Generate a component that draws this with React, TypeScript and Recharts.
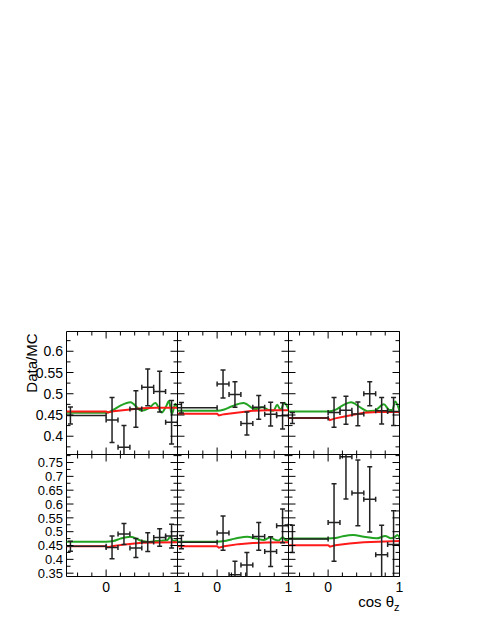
import React from 'react';
import { ComposedChart, XAxis, YAxis, Line, Scatter, ErrorBar, ReferenceArea } from 'recharts';

// ---- binning (cos theta_z) ----
const binCenters = [-0.5, 0.083, 0.25, 0.417, 0.583, 0.75, 0.917];
const binHalfWidths = [0.5, 0.083, 0.083, 0.083, 0.083, 0.083, 0.083];

// ---- data points (Data/MC) and errors per panel ----
const dataTopLeft = [0.449, 0.438, 0.374, 0.464, 0.515, 0.505, 0.433];
const errTopLeft = [0.02, 0.053, 0.051, 0.043, 0.043, 0.048, 0.051];
const dataTopMid = [0.467, 0.523, 0.498, 0.43, 0.468, 0.452, 0.448];
const errTopMid = [0.0125, 0.033, 0.03, 0.027, 0.028, 0.028, 0.031];
const dataTopRight = [0.443, 0.456, 0.461, 0.4525, 0.5, 0.46, 0.458];
const errTopRight = [0.013, 0.035, 0.033, 0.028, 0.028, 0.031, 0.033];
const dataBotLeft = [0.447, 0.443, 0.492, 0.441, 0.4625, 0.479, 0.484];
const errBotLeft = [0.018, 0.041, 0.038, 0.034, 0.034, 0.032, 0.043];
const dataBotMid = [0.462, 0.495, 0.344, 0.38, 0.483, 0.428, 0.521];
const errBotMid = [0.024, 0.062, 0.049, 0.045, 0.05, 0.054, 0.061];
const dataBotRight = [0.474, 0.533, 0.771, 0.64, 0.617, 0.417, 0.454];
const errBotRight = [0.049, 0.14, 0.153, 0.119, 0.118, 0.106, 0.122];

// ---- red curve ----
const redX = [-0.555, 0, 0.025, 0.1, 0.3, 0.5, 0.7, 1.0];
const redTopLeft = [0.4585, 0.4585, 0.456, 0.459, 0.4625, 0.466, 0.467, 0.467];
const redTopMid = [0.453, 0.453, 0.449, 0.452, 0.456, 0.46, 0.461, 0.461];
const redTopRight = [0.443, 0.443, 0.438, 0.442, 0.449, 0.455, 0.457, 0.457];
const redBotLeft = [0.4475, 0.4475, 0.444, 0.448, 0.455, 0.46, 0.461, 0.462];
const redBotMid = [0.4475, 0.4475, 0.442, 0.447, 0.455, 0.459, 0.461, 0.462];
const redBotRight = [0.451, 0.451, 0.446, 0.451, 0.457, 0.462, 0.464, 0.466];

// ---- green curve ----
const greenXTopLeft = [-0.555, 0, 0.08, 0.2, 0.34, 0.5, 0.6, 0.69, 0.78, 0.84, 0.88, 0.92, 0.97, 1.0];
const greenTopLeft = [0.455, 0.455, 0.46, 0.472, 0.48, 0.46, 0.466, 0.478, 0.456, 0.47, 0.483, 0.452, 0.476, 0.464];
const greenXTopMid = [-0.555, 0, 0.1, 0.2, 0.37, 0.53, 0.63, 0.72, 0.79, 0.84, 0.89, 0.94, 1.0];
const greenTopMid = [0.46, 0.46, 0.463, 0.47, 0.478, 0.464, 0.468, 0.462, 0.46, 0.474, 0.462, 0.479, 0.464];
const greenXTopRight = [-0.555, 0, 0.1, 0.2, 0.32, 0.45, 0.55, 0.65, 0.78, 0.86, 0.9, 0.94, 1.0];
const greenTopRight = [0.4585, 0.4585, 0.462, 0.472, 0.48, 0.468, 0.459, 0.46, 0.475, 0.462, 0.462, 0.482, 0.46];
const greenXBotLeft = [-0.555, 0, 0.1, 0.2, 0.34, 0.5, 0.6, 0.7, 0.8, 0.86, 0.9, 0.94, 1.0];
const greenBotLeft = [0.4634, 0.4634, 0.466, 0.475, 0.482, 0.466, 0.463, 0.466, 0.468, 0.47, 0.482, 0.466, 0.47];
const greenXBotMid = [-0.555, 0, 0.1, 0.2, 0.3, 0.42, 0.55, 0.65, 0.75, 0.8, 0.86, 0.92, 0.96, 1.0];
const greenBotMid = [0.4634, 0.4634, 0.466, 0.472, 0.478, 0.482, 0.475, 0.47, 0.48, 0.472, 0.468, 0.48, 0.47, 0.468];
const greenXBotRight = [-0.555, 0, 0.1, 0.2, 0.35, 0.5, 0.68, 0.8, 0.88, 0.93, 0.97, 1.0];
const greenBotRight = [0.4757, 0.4757, 0.477, 0.483, 0.488, 0.482, 0.476, 0.484, 0.476, 0.48, 0.488, 0.478];

// ---- axes ----
const xTicks = [-0.4, -0.2, 0, 0.2, 0.4, 0.6, 0.8, 1];
const yTicksTop = [0.375, 0.4, 0.425, 0.45, 0.475, 0.5, 0.525, 0.55, 0.575, 0.6, 0.625];
const yTicksBottom = [0.35, 0.375, 0.4, 0.425, 0.45, 0.475, 0.5, 0.525, 0.55, 0.575, 0.6, 0.625, 0.65, 0.675, 0.7, 0.725, 0.75, 0.775];
const X_DOMAIN = [-0.555, 1];
const TOP_DOMAIN = [0.357, 0.6465];
const BOTTOM_DOMAIN = [0.338, 0.779];

const FONT = "'Liberation Sans', Arial, Helvetica, sans-serif";
const ML = 54.5;
const MR = 10.5;
const MT = 10.5;
const MB = 40.5;
const PW = 111;
const AXIS_W = 1;

type PanelProps = {
  id: string;
  left: number;
  top: number;
  h: number;
  yDomain: number[];
  yTicks: number[];
  yFont: number;
  showY: boolean;
  showX: boolean;
  values: number[];
  errors: number[];
  redY: number[];
  greenX: number[];
  greenY: number[];
  extra?: React.ReactNode;
};

function Panel(props: PanelProps) {
  const { id, left, top, h, yDomain, yTicks, yFont, showY, showX, values, errors, redY, greenX, greenY, extra } = props;
  const points = binCenters.map((x, i) => ({ x, v: values[i], xe: binHalfWidths[i], ye: errors[i] }));
  const red = redX.map((x, i) => ({ x, v: redY[i] }));
  const green = greenX.map((x, i) => ({ x, v: greenY[i] }));
  const plotBottom = MT + h;
  const clipId = `clip-${id}`;

  const renderX = (p: any) => {
    const cx = p.x;
    const v = p.payload.value;
    const major = Math.abs(v - Math.round(v)) < 1e-6;
    const len = major ? 7 : 4;
    return (
      <g>
        <line x1={cx} x2={cx} y1={plotBottom} y2={plotBottom - len} stroke="#000" strokeWidth={1} />
        <line x1={cx} x2={cx} y1={MT} y2={MT + len} stroke="#000" strokeWidth={1} />
        {showX && major ? (
          <text x={cx} y={plotBottom + 15.2} textAnchor="middle" fontSize={14} fill="#000" fontFamily={FONT}>
            {String(v)}
          </text>
        ) : null}
      </g>
    );
  };

  const renderY = (p: any) => {
    const cy = p.y;
    const v = p.payload.value;
    const major = Math.abs(v * 20 - Math.round(v * 20)) < 1e-6;
    const len = major ? 7 : 4;
    return (
      <g>
        <line x1={ML} x2={ML + len} y1={cy} y2={cy} stroke="#000" strokeWidth={1} />
        <line x1={ML + PW - len} x2={ML + PW} y1={cy} y2={cy} stroke="#000" strokeWidth={1} />
        {showY && major ? (
          <text x={ML - 3.5} y={cy} dy="0.36em" textAnchor="end" fontSize={yFont} fill="#000" fontFamily={FONT}>
            {String(v)}
          </text>
        ) : null}
      </g>
    );
  };

  return (
    <div className={`panel-${id}`} style={{ position: 'absolute', left: left - ML, top: top - MT }}>
      <style>{`.panel-${id} .recharts-errorBars, .panel-${id} .recharts-errorBar { clip-path: url(#${clipId}); }`}</style>
      <ComposedChart
        width={ML + PW + MR}
        height={MT + h + MB}
        margin={{ top: MT, right: MR, bottom: MB - AXIS_W, left: ML - AXIS_W }}
      >
        <defs>
          <clipPath id={clipId} clipPathUnits="userSpaceOnUse">
            <rect x={ML} y={MT} width={PW} height={h} />
          </clipPath>
        </defs>
        <XAxis
          type="number"
          dataKey="x"
          domain={X_DOMAIN}
          allowDataOverflow
          ticks={xTicks}
          interval={0}
          height={AXIS_W}
          axisLine={false}
          tickLine={false}
          tickSize={0}
          tickMargin={0}
          tick={renderX}
        />
        <YAxis
          type="number"
          dataKey="v"
          domain={yDomain}
          allowDataOverflow
          ticks={yTicks}
          interval={0}
          width={AXIS_W}
          axisLine={false}
          tickLine={false}
          tickSize={0}
          tickMargin={0}
          tick={renderY}
        />
        <ReferenceArea
          x1={X_DOMAIN[0]}
          x2={X_DOMAIN[1]}
          y1={yDomain[0]}
          y2={yDomain[1]}
          fill="none"
          fillOpacity={0}
          stroke="#000"
          strokeWidth={1}
          ifOverflow="visible"
        />
        <Line data={green} dataKey="v" type="monotone" stroke="#22a322" strokeWidth={2} dot={false} isAnimationActive={false} />
        <Line data={red} dataKey="v" type="linear" stroke="#ff1a1a" strokeWidth={2} dot={false} isAnimationActive={false} />
        <Scatter data={points} dataKey="v" shape={() => <g />} isAnimationActive={false}>
          <ErrorBar dataKey="ye" direction="y" width={2.5} stroke="#222" strokeWidth={1.5} />
          <ErrorBar dataKey="xe" direction="x" width={2.5} stroke="#222" strokeWidth={1.5} />
        </Scatter>
        {extra}
      </ComposedChart>
    </div>
  );
}

export default function App() {
  const top1 = 331.5;
  const top2 = 454.5;
  const lefts = [66.5, 177.5, 288.5];
  return (
    <div style={{ position: 'absolute', left: 0, top: 0, width: 480, height: 621, background: '#fff', fontFamily: FONT }}>
      <Panel
        id="tl" left={lefts[0]} top={top1} h={123} yDomain={TOP_DOMAIN} yTicks={yTicksTop} yFont={14}
        showY showX={false} values={dataTopLeft} errors={errTopLeft} redY={redTopLeft}
        greenX={greenXTopLeft} greenY={greenTopLeft}
        extra={
          <text x={24.5} y={12.5} transform="rotate(-90, 24.5, 12.5)" textAnchor="end" fontSize={15} fill="#000" fontFamily={FONT}>
            Data/MC
          </text>
        }
      />
      <Panel
        id="tm" left={lefts[1]} top={top1} h={123} yDomain={TOP_DOMAIN} yTicks={yTicksTop} yFont={14}
        showY={false} showX={false} values={dataTopMid} errors={errTopMid} redY={redTopMid}
        greenX={greenXTopMid} greenY={greenTopMid}
      />
      <Panel
        id="tr" left={lefts[2]} top={top1} h={123} yDomain={TOP_DOMAIN} yTicks={yTicksTop} yFont={14}
        showY={false} showX={false} values={dataTopRight} errors={errTopRight} redY={redTopRight}
        greenX={greenXTopRight} greenY={greenTopRight}
      />
      <Panel
        id="bl" left={lefts[0]} top={top2} h={122} yDomain={BOTTOM_DOMAIN} yTicks={yTicksBottom} yFont={13}
        showY showX values={dataBotLeft} errors={errBotLeft} redY={redBotLeft}
        greenX={greenXBotLeft} greenY={greenBotLeft}
      />
      <Panel
        id="bm" left={lefts[1]} top={top2} h={122} yDomain={BOTTOM_DOMAIN} yTicks={yTicksBottom} yFont={13}
        showY={false} showX values={dataBotMid} errors={errBotMid} redY={redBotMid}
        greenX={greenXBotMid} greenY={greenBotMid}
      />
      <Panel
        id="br" left={lefts[2]} top={top2} h={122} yDomain={BOTTOM_DOMAIN} yTicks={yTicksBottom} yFont={13}
        showY={false} showX values={dataBotRight} errors={errBotRight} redY={redBotRight}
        greenX={greenXBotRight} greenY={greenBotRight}
        extra={
          <text x={165.5} y={162.7} textAnchor="end" fontSize={15} fill="#000" fontFamily={FONT}>
            cos θ<tspan fontSize={11} dy={4}>z</tspan>
          </text>
        }
      />
    </div>
  );
}
